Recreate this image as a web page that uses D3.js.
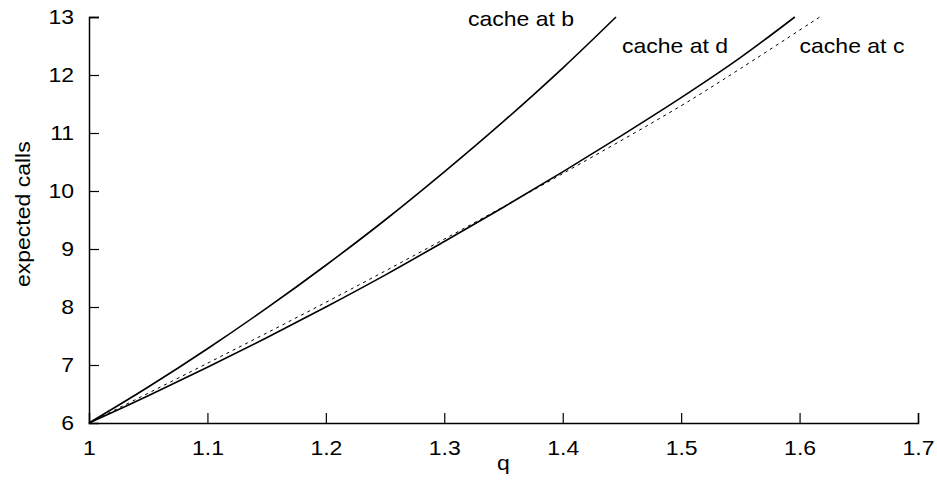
<!DOCTYPE html>
<html>
<head>
<meta charset="utf-8">
<script src="https://cdn.jsdelivr.net/npm/d3@7"></script>
<style>
  body { margin: 0; background: #fff; }
  text { font-family: "Liberation Sans", Arial, sans-serif; fill: #000; }
</style>
</head>
<body>
<div id="chart"></div>
<script>
// size of the page and the plot area
const W = 937, H = 495
const margin = { top: 17, right: 19, bottom: 72, left: 89 }
const width = W - margin.left - margin.right
const height = H - margin.top - margin.bottom
// the text of the original is a bit wider than Arial
const stretch = "scale(1.15,1)"

// tick values
const xTicks = [1, 1.1, 1.2, 1.3, 1.4, 1.5, 1.6, 1.7]
const yTicks = [6, 7, 8, 9, 10, 11, 12, 13]

// curve "cache at b"
const qB = [1, 1.05, 1.1, 1.15, 1.2, 1.25, 1.3, 1.35, 1.4, 1.445]
const callsB = [6, 6.62, 7.28, 7.98, 8.72, 9.5, 10.33, 11.2, 12.12, 13]
// curve "cache at d"
const qD = [1, 1.05, 1.1, 1.15, 1.2, 1.25, 1.3, 1.35, 1.4, 1.45, 1.5, 1.55, 1.596]
const callsD = [6, 6.47, 6.96, 7.47, 8.0, 8.55, 9.13, 9.72, 10.33, 10.96, 11.61, 12.3, 13]
// curve "cache at c" (dashed)
const qC = [1, 1.1, 1.2, 1.3, 1.4, 1.5, 1.55, 1.617]
const callsC = [6, 7.03, 8.08, 9.17, 10.3, 11.47, 12.11, 13]

// labels
const labels = ["cache at b", "cache at d", "cache at c"]

const svg = d3.select("#chart").append("svg")
    .attr("width", W)
    .attr("height", H)
  .append("g")
    .attr("transform", "translate(" + margin.left + "," + margin.top + ")")

const x = d3.scaleLinear().domain([1, 1.7]).range([0, width])
const y = d3.scaleLinear().domain([6, 13]).range([height, 0])

// axes, ticks pointing inside
const xAxis = svg.append("g")
    .attr("transform", "translate(0," + height + ")")
    .call(d3.axisBottom(x).tickValues(xTicks).tickSize(-10).tickPadding(18).tickFormat(d3.format("")))
const yAxis = svg.append("g")
    .call(d3.axisLeft(y).tickValues(yTicks).tickSize(-10).tickPadding(13).tickFormat(d3.format("d")))

svg.selectAll(".domain").attr("stroke", "#000").attr("stroke-width", 1.5)
svg.selectAll(".tick line").attr("stroke", "#000").attr("stroke-width", 1.2)
svg.selectAll(".tick text").style("font-size", "20px").attr("fill", "#000")
    .style("font-family", "'Liberation Sans', Arial, sans-serif")
    .attr("transform", stretch)
// remove the tick line at origin
xAxis.selectAll(".tick").filter(d => d === 1).select("line").remove()
yAxis.selectAll(".tick").filter(d => d === 6).select("line").remove()
yAxis.selectAll(".tick").filter(d => d === 13).select("line").attr("stroke-width", 1.5)

// axis titles
svg.append("text")
    .attr("transform", "translate(" + x(1.35) + "," + (height + 47) + ") " + stretch)
    .attr("text-anchor", "middle")
    .style("font-size", "20px")
    .text("q")
svg.append("text")
    .attr("transform", "translate(" + (-59) + "," + y(9.6) + ") rotate(-90) " + stretch)
    .attr("text-anchor", "middle")
    .style("font-size", "20px")
    .text("expected calls")

// lines
const line = d3.line()
    .x(d => x(d[0]))
    .y(d => y(d[1]))
    .curve(d3.curveCatmullRom)

svg.append("path")
    .datum(d3.zip(qB, callsB))
    .attr("d", line)
    .attr("fill", "none").attr("stroke", "#000").attr("stroke-width", 1.6)
svg.append("path")
    .datum(d3.zip(qD, callsD))
    .attr("d", line)
    .attr("fill", "none").attr("stroke", "#000").attr("stroke-width", 1.6)
svg.append("path")
    .datum(d3.zip(qC, callsC))
    .attr("d", line)
    .attr("fill", "none").attr("stroke", "#000").attr("stroke-width", 1)
    .attr("stroke-dasharray", "3,4")

// curve labels
const labelPos = [[1.32, 12.85], [1.45, 12.38], [1.6, 12.38]]
svg.append("g").selectAll("text")
    .data(labels)
    .enter()
    .append("text")
      .attr("transform", (d, i) => "translate(" + x(labelPos[i][0]) + "," + y(labelPos[i][1]) + ") " + stretch)
      .style("font-size", "20px")
      .text(d => d)
</script>
</body>
</html>
